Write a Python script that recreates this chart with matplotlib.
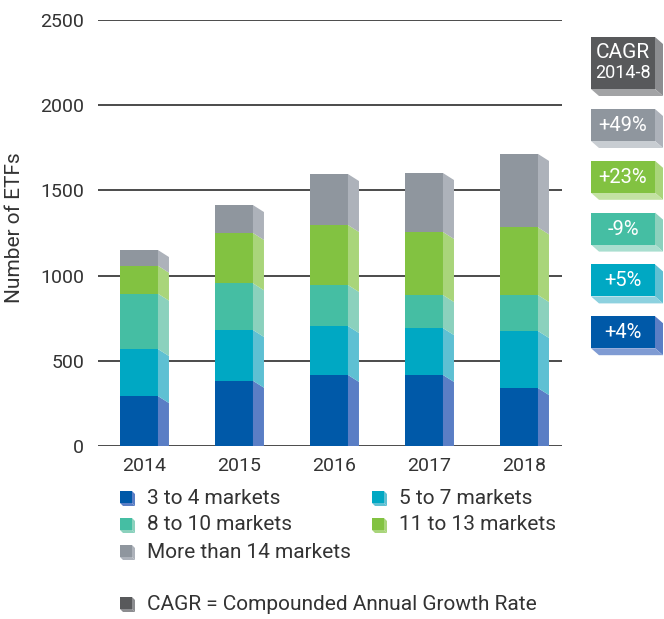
import numpy as np
import matplotlib.pyplot as plt
from matplotlib.patches import Polygon, Rectangle

plt.rcParams['font.family'] = ['Roboto', 'DejaVu Sans']

years = ['2014', '2015', '2016', '2017', '2018']
m3_4 = [293, 383, 417, 417, 340]
m5_7 = [276, 298, 287, 275, 335]
m8_10 = [325, 274, 241, 194, 211]
m11_13 = [164, 295, 352, 370, 397]
m14 = [92, 164, 299, 346, 431]

labels = ['3 to 4 markets', '5 to 7 markets', '8 to 10 markets',
          '11 to 13 markets', 'More than 14 markets']
cagr = ['+4%', '+5%', '-9%', '+23%', '+49%']

front = ['#0059a8', '#00a8c3', '#45bea3', '#82c241', '#8f969e']
side = ['#5a7ec5', '#5ec0d3', '#8bd1bd', '#a9d57a', '#adb2ba']
bottom = ['#7f9bd3', '#8dd1df', '#a9decf', '#c3e2a3', '#c8cdd2']
txt = '#333333'

fig = plt.figure(figsize=(6.64, 6.19), dpi=100)
ax = fig.add_axes([98 / 664, 173 / 619, 464 / 664, 426 / 619])

series = [m3_4, m5_7, m8_10, m11_13, m14]
x = np.arange(len(years))
w = 0.4
d = 0.116
dy = 41
base = np.zeros(len(years))
for k, vals in enumerate(series):
    vals = np.array(vals, dtype=float)
    ax.bar(x - 0.258, vals, w, bottom=base, align='edge', color=front[k], zorder=3)
    for i in range(len(years)):
        x1 = x[i] - 0.258 + w
        b = base[i]
        t = base[i] + vals[i]
        pts = [(x1, t), (x1 + d, t - dy), (x1 + d, max(b - dy, 0)), (x1, b)]
        if b == 0:
            pts = [(x1, t), (x1 + d, t - dy), (x1 + d, 0), (x1, 0)]
        ax.add_patch(Polygon(pts, closed=True, color=side[k], lw=0, zorder=3))
    base += vals

ax.set_xlim(-0.489, 4.395)
ax.set_ylim(0, 2500)
ax.set_yticks(np.arange(0, 2501, 500))
ax.set_xticks(x)
ax.set_xticklabels(years)
ax.grid(axis='y', color='#1a1a1a', lw=1.1)
ax.set_axisbelow(True)
for s in ax.spines.values():
    s.set_visible(False)
ax.tick_params(length=0, labelsize=14, labelcolor=txt)
ax.tick_params(axis='y', pad=10)
ax.tick_params(axis='x', pad=8)

fig.text(15 / 664, 1 - 228 / 619, 'Number of ETFs', rotation=90, ha='center',
         va='center', fontsize=15, color=txt)

# overlay in pixel units for the CAGR boxes and the legend
ov = fig.add_axes([0, 0, 1, 1])
ov.set_xlim(0, 664)
ov.set_ylim(619, 0)
ov.axis('off')


def box3d(x0, y0, bw, bh, ox, oy, cf, cs, cb):
    ov.add_patch(Polygon([(x0 + bw, y0), (x0 + bw + ox, y0 + oy),
                          (x0 + bw + ox, y0 + bh + oy), (x0 + bw, y0 + bh)],
                         color=cs, lw=0))
    ov.add_patch(Polygon([(x0, y0 + bh), (x0 + bw, y0 + bh),
                          (x0 + bw + ox, y0 + bh + oy), (x0 + ox, y0 + bh + oy)],
                         color=cb, lw=0))
    ov.add_patch(Rectangle((x0, y0), bw, bh, color=cf, lw=0))


# CAGR boxes
box3d(591, 37, 64, 52, 8, 7, '#58595b', '#8c8d90', '#a2a3a5')
ov.text(623, 53, 'CAGR', color='white', fontsize=15, ha='center', va='center')
ov.text(623, 73, '2014-8', color='white', fontsize=13, ha='center', va='center')
for j, k in enumerate(range(4, -1, -1)):
    y0 = 109 + j * 51.8
    box3d(591, y0, 64, 32, 8, 7, front[k], side[k], bottom[k])
    ov.text(623, y0 + 16.5, cagr[k], color='white', fontsize=14.5,
            ha='center', va='center')

# legend
leg_pos = [(120, 498), (372, 498), (120, 525), (372, 525), (120, 552)]
for k, (lx, ly) in enumerate(leg_pos):
    box3d(lx, ly - 7, 12, 12, 3, 3, front[k], side[k], side[k])
    ov.text(lx + 27, ly, labels[k], fontsize=15, color=txt, va='center', ha='left')
box3d(120, 597, 12, 12, 3, 3, '#58595b', '#8c8d90', '#8c8d90')
ov.text(147, 604, 'CAGR = Compounded Annual Growth Rate', fontsize=15,
        color=txt, va='center', ha='left')

fig.savefig('out.png', dpi=100)
